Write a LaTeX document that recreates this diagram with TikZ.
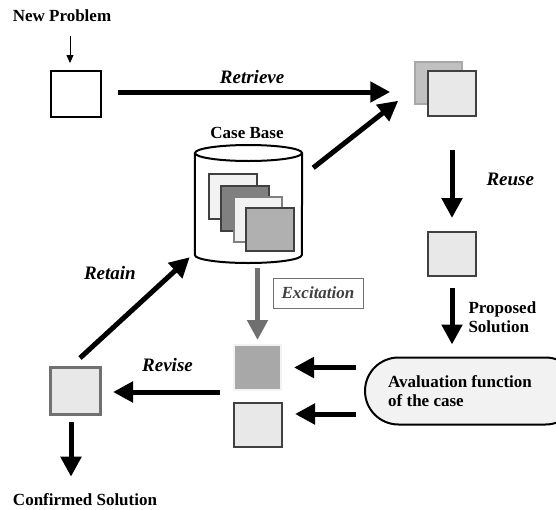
\documentclass[tikz,border=0pt]{standalone}
\usepackage{fontspec}
\setmainfont{Liberation Serif}[BoldFont={Liberation Serif Bold}, ItalicFont={Liberation Serif Italic}, BoldItalicFont={Liberation Serif Bold Italic}]
\usetikzlibrary{positioning, arrows.meta, shapes.misc, calc}
\definecolor{Black75}{HTML}{404040}
\definecolor{Black55}{HTML}{707070}
\definecolor{Black50}{HTML}{808080}
\definecolor{Black40}{HTML}{A8A8A8}
\definecolor{Black30}{HTML}{B0B0B0}
\definecolor{Black25}{HTML}{C0C0C0}
\definecolor{Black10}{HTML}{E8E8E8}
\definecolor{Black5}{HTML}{F2F2F2}

\begin{document}
\begin{tikzpicture}[x=1pt, y=-1pt,
    sq/.style={draw=Black75, line width=2pt, fill=Black10, minimum width=48pt, minimum height=45pt, inner sep=0pt},
    arr/.style={-{Triangle[length=20pt, width=20pt]}, line width=5pt},
    thinarr/.style={-{Triangle[length=8pt, width=7pt]}, line width=0.8pt},
    lbl/.style={font=\rmfamily\fontsize{17}{19}\selectfont\bfseries},
    act/.style={font=\rmfamily\fontsize{19}{21}\selectfont\bfseries\itshape},
    every node/.style={inner sep=2pt}
]
\useasboundingbox (0,0) rectangle (556,509);

% New problem
\node[lbl] (newp) at (62,16) {New Problem};
\node[sq, draw=black, fill=white, minimum width=50pt, minimum height=46pt] (np) at (76,94) {};
\draw[thinarr, shorten <=12pt, shorten >=7pt] ([xshift=-6pt]np.north |- newp.south) -- ([xshift=-6pt]np.north);

% Retrieved cases
\node[sq, draw=Black40, line width=1.5pt, fill=Black25, minimum width=47pt, minimum height=42pt] (retB) at (438.5,83) {};
\node[sq, minimum height=45pt] (retF) at (452,93.5) {};
\draw[arr, shorten <=16pt, shorten >=24pt] (np.east |- 0,92) -- (retB.west |- 0,92)
    node[act, midway, above=4pt, xshift=-6pt] {Retrieve};

% Case base
\node[minimum width=107pt, minimum height=118pt, inner sep=0pt] (cb) at (248.5,204) {};
\draw[line width=2pt, fill=white] (cb.west |- 0,153) -- (cb.west |- 0,255) arc[start angle=180, end angle=0, x radius=53.5, y radius=8] -- (cb.east |- 0,153);
\draw[line width=2pt, fill=white] (cb.north |- 0,153) ellipse[x radius=53.5, y radius=8];
\node[lbl] (cbl) at (247,133) {Case Base};
\node[sq, fill=Black5] (c1) at (233,196.5) {};
\node[sq, fill=Black50] (c2) at (245,208.5) {};
\node[sq, draw=Black50, fill=Black5] (c3) at (257.5,219.5) {};
\node[sq, fill=Black30, minimum height=43pt] (c4) at (269.5,229.5) {};
\draw[arr] ([xshift=11pt, yshift=-23pt]cb.north east) -- ([xshift=-16pt, yshift=4pt]retB.south west);

% Reuse
\node[sq, minimum height=44pt] (reu) at (452,254) {};
\draw[arr, shorten <=33pt, shorten >=13pt] (retF.south) -- (reu.north)
    node[act, pos=0.55, right=30pt] {Reuse};

% Evaluation
\node[rounded rectangle, draw, line width=2pt, fill=Black5, minimum width=218pt, minimum height=67pt] (eval) at (472,391) {};
\node[lbl, align=left, anchor=west] (evalt) at (386,391) {Avaluation function\\of the case};
\draw[arr, shorten <=11pt, shorten >=12pt] (reu.south) -- (reu.south |- eval.north)
    node[lbl, midway, right=12pt, align=left] {Proposed\\Solution};

% Excitation
\node[sq, draw=Black5, fill=Black40, minimum width=47pt] (exc) at (257.5,367.5) {};
\node[sq, minimum height=44pt] (low) at (258,425) {};
\draw[arr, Black55, shorten <=5pt, shorten >=4pt] (exc.north |- cb.south) -- (exc.north);
\node[draw=Black55, line width=0.8pt, minimum width=90pt, minimum height=30pt,
      act, font=\rmfamily\fontsize{17}{19}\selectfont\bfseries\itshape, text=Black75] (excl) at (318,293) {Excitation};
\coordinate (a1) at (exc.east);
\coordinate (a2) at ([yshift=11pt]low.east);
\draw[arr, shorten <=8pt, shorten >=12pt] (eval.west |- a1) -- (a1);
\draw[arr, shorten <=8pt, shorten >=12pt] (eval.west |- a2) -- (a2);

% Revise and retain
\node[sq, draw=Black55, line width=3pt, minimum width=50pt, minimum height=47pt] (conf) at (75.5,391) {};
\draw[arr, shorten <=13pt, shorten >=11pt] (exc.west |- 0,392) -- (conf.east |- 0,392)
    node[act, midway, above=16pt] {Revise};
\draw[arr] ([xshift=4.5pt, yshift=8pt]conf.north) -- ([xshift=-5pt, yshift=6pt]cb.south west)
    node[act, midway, xshift=-25pt, yshift=35pt] {Retain};

% Confirmed solution
\node[lbl] (confs) at (85,500) {Confirmed Solution};
\draw[arr, shorten <=6pt, shorten >=15pt] ([xshift=-4.5pt]conf.south) -- ([xshift=-4.5pt]conf.south |- confs.north);

\end{tikzpicture}
\end{document}
